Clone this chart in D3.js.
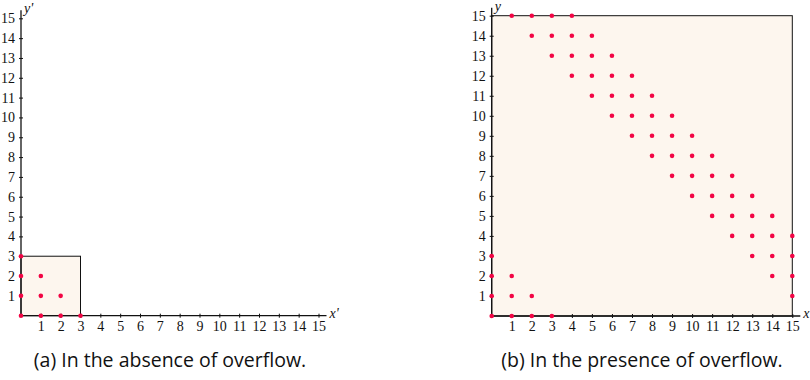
<!DOCTYPE html>
<html>
<head>
<meta charset="utf-8">
<script src="https://cdn.jsdelivr.net/npm/d3@7"></script>
<style>
  html, body { margin: 0; padding: 0; background: #fff; }
  svg text { fill: #111; }
</style>
</head>
<body>
<div class="container"></div>
<script>
// tick values shared by both panels
const tickValues = [1, 2, 3, 4, 5, 6, 7, 8, 9, 10, 11, 12, 13, 14, 15];
const domainMax = 15;

// (a) points inside the 3x3 box
const pointsA = [
  [0, 0], [1, 0], [2, 0], [3, 0],
  [0, 1], [1, 1], [2, 1],
  [0, 2], [1, 2],
  [0, 3]
];
const boxA = [0, 3];

// (b) points that wrap around
const pointsB = [
  [1, 15], [2, 15], [3, 15], [4, 15],
  [2, 14], [3, 14], [4, 14], [5, 14],
  [3, 13], [4, 13], [5, 13], [6, 13],
  [4, 12], [5, 12], [6, 12], [7, 12],
  [5, 11], [6, 11], [7, 11], [8, 11],
  [6, 10], [7, 10], [8, 10], [9, 10],
  [7, 9], [8, 9], [9, 9], [10, 9],
  [8, 8], [9, 8], [10, 8], [11, 8],
  [9, 7], [10, 7], [11, 7], [12, 7],
  [10, 6], [11, 6], [12, 6], [13, 6],
  [11, 5], [12, 5], [13, 5], [14, 5],
  [12, 4], [13, 4], [14, 4], [15, 4],
  [0, 3], [13, 3], [14, 3], [15, 3],
  [0, 2], [1, 2], [14, 2], [15, 2],
  [0, 1], [1, 1], [2, 1], [15, 1],
  [0, 0], [1, 0], [2, 0], [3, 0]
];
const boxB = [0, 15];

const captions = ["(a) In the absence of overflow.", "(b) In the presence of overflow."];
const axisLabels = [["x'", "y'"], ["x", "y"]];

const W = 810, H = 380;
const BOX_FILL = "#fdf6ee";
const DOT_COLOR = "#f20544";
const TICK_FONT = "'Liberation Serif', serif";

const svg = d3.select(".container").append("svg")
  .attr("width", W)
  .attr("height", H)
  .style("display", "block");

function drawPanel(cfg) {
  const x = d3.scaleLinear().domain([0, domainMax]).range(cfg.xRange);
  const y = d3.scaleLinear().domain([0, domainMax]).range(cfg.yRange);
  const g = svg.append("g");

  // the shaded box
  g.append("rect")
    .attr("x", x(cfg.box[0]))
    .attr("y", y(cfg.box[1]))
    .attr("width", x(cfg.box[1]) - x(cfg.box[0]))
    .attr("height", y(cfg.box[0]) - y(cfg.box[1]))
    .attr("fill", BOX_FILL)
    .attr("stroke", "#111")
    .attr("stroke-width", 1);

  // x axis
  const gx = g.append("g")
    .attr("transform", `translate(0,${y(0)})`)
    .call(d3.axisBottom(x).tickValues(tickValues).tickSize(2).tickSizeOuter(0).tickPadding(3));
  gx.select(".domain").remove();
  gx.selectAll(".tick line").attr("y1", -2).attr("y2", 2).attr("stroke", "#111");
  gx.selectAll(".tick text")
    .attr("font-family", TICK_FONT)
    .attr("font-size", 14)
    .attr("fill", "#111");

  // y axis
  const gy = g.append("g")
    .attr("transform", `translate(${x(0)},0)`)
    .call(d3.axisLeft(y).tickValues(tickValues).tickSize(2).tickSizeOuter(0).tickPadding(4));
  gy.select(".domain").remove();
  gy.selectAll(".tick line").attr("x1", -2).attr("x2", 2).attr("stroke", "#111");
  gy.selectAll(".tick text")
    .attr("font-family", TICK_FONT)
    .attr("font-size", 14)
    .attr("fill", "#111");

  // axis lines, a bit longer than the range
  g.append("line")
    .attr("x1", x(0)).attr("x2", x(domainMax) + 8)
    .attr("y1", y(0)).attr("y2", y(0))
    .attr("stroke", "#111").attr("stroke-width", 1.3);
  g.append("line")
    .attr("x1", x(0)).attr("x2", x(0))
    .attr("y1", y(0)).attr("y2", y(domainMax) - 8)
    .attr("stroke", "#111").attr("stroke-width", 1.3);

  g.append("text")
    .attr("x", x(domainMax) + 11)
    .attr("y", y(0) + 2)
    .attr("font-family", TICK_FONT)
    .attr("font-style", "italic")
    .attr("font-size", 14)
    .text(cfg.labels[0]);
  g.append("text")
    .attr("x", x(0) + 3)
    .attr("y", y(domainMax) - 5)
    .attr("font-family", TICK_FONT)
    .attr("font-style", "italic")
    .attr("font-size", 14)
    .text(cfg.labels[1]);

  // points
  g.append("g")
    .selectAll("circle")
    .data(cfg.points)
    .enter()
    .append("circle")
    .attr("cx", d => x(d[0]))
    .attr("cy", d => y(d[1]))
    .attr("r", 2.3)
    .attr("fill", DOT_COLOR);

  svg.append("text")
    .attr("x", cfg.captionX)
    .attr("y", 367)
    .attr("text-anchor", "middle")
    .attr("font-family", "'Open Sans', sans-serif")
    .attr("font-size", 19.5)
    .text(cfg.caption);
}

drawPanel({
  xRange: [21, 318.5], yRange: [315.7, 18.3],
  box: boxA, points: pointsA, labels: axisLabels[0],
  caption: captions[0], captionX: 170
});

drawPanel({
  xRange: [491.7, 792.3], yRange: [316, 15.7],
  box: boxB, points: pointsB, labels: axisLabels[1],
  caption: captions[1], captionX: 642
});
</script>
</body>
</html>
